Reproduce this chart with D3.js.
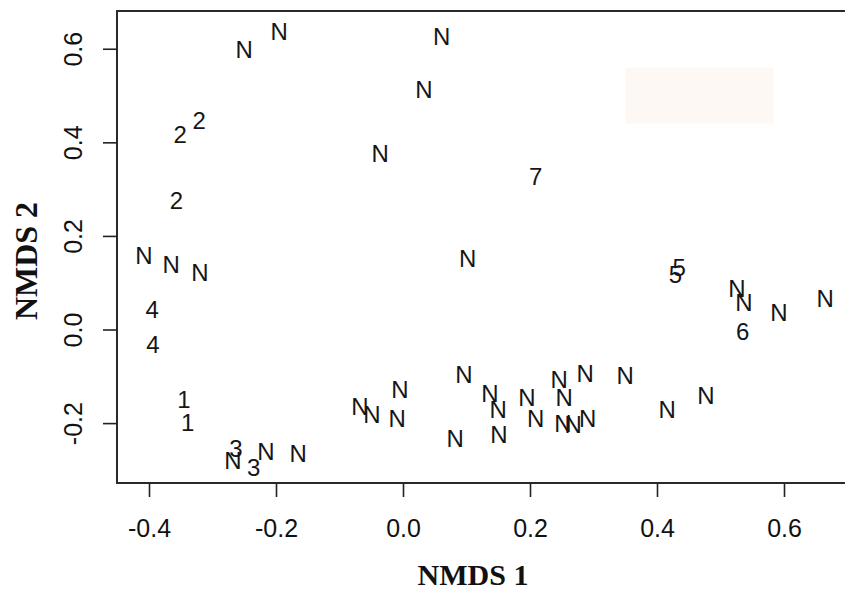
<!DOCTYPE html>
<html>
<head>
<meta charset="utf-8">
<script src="https://cdn.jsdelivr.net/npm/d3@7"></script>
<style>
  html, body { margin: 0; padding: 0; background: #fff; }
  svg { display: block; }
</style>
</head>
<body>
<svg id="chart" width="845" height="591"></svg>
<script>
// NMDS ordination: each site drawn as its group label
const labels = [
  "N", "N", "N", "N", "N", "7",
  "2", "2", "2",
  "N", "N", "N",
  "4", "4", "1", "1",
  "N", "3", "3", "N", "N",
  "N", "5", "5", "N", "N", "6", "N", "N",
  "N", "N", "N", "N",
  "N", "N", "N", "N", "N", "N", "N", "N", "N",
  "N", "N", "N", "N", "N", "N", "N"
];
const nmds1 = [
  -0.250, -0.195, 0.061, 0.033, -0.036, 0.209,
  -0.351, -0.321, -0.357,
  -0.408, -0.365, -0.320,
  -0.395, -0.394, -0.345, -0.339,
  -0.268, -0.263, -0.235, -0.216, -0.165,
  0.102, 0.435, 0.429, 0.526, 0.537, 0.535, 0.592, 0.665,
  -0.005, -0.068, -0.049, -0.009,
  0.096, 0.137, 0.150, 0.082, 0.151, 0.195, 0.209, 0.246, 0.254,
  0.252, 0.268, 0.287, 0.291, 0.350, 0.416, 0.477
];
const nmds2 = [
  0.599, 0.638, 0.627, 0.514, 0.377, 0.328,
  0.418, 0.446, 0.277,
  0.159, 0.140, 0.123,
  0.042, -0.031, -0.149, -0.198,
  -0.279, -0.255, -0.294, -0.260, -0.264,
  0.153, 0.132, 0.117, 0.088, 0.059, -0.004, 0.037, 0.067,
  -0.127, -0.165, -0.182, -0.189,
  -0.095, -0.136, -0.170, -0.232, -0.225, -0.146, -0.189, -0.106, -0.146,
  -0.200, -0.203, -0.093, -0.189, -0.099, -0.170, -0.140
];
const xTicks = [-0.4, -0.2, 0.0, 0.2, 0.4, 0.6];
const yTicks = [-0.2, 0.0, 0.2, 0.4, 0.6];

const svg = d3.select("#chart");
const frameL = 117, frameT = 11, frameR = 850, frameB = 483;

const x = d3.scaleLinear().domain([-0.45, 0.7]).range([117.25, 847.5]);
const y = d3.scaleLinear().domain([-0.328, 0.68]).range([483, 11.3]);
const fmt = d => d3.format(".1f")(d).replace("−", "-");

// faint patch left in the source image
svg.append("rect")
  .attr("x", x(0.350)).attr("y", y(0.56))
  .attr("width", x(0.583) - x(0.350)).attr("height", y(0.44) - y(0.56))
  .attr("fill", "#fef8f4");

// plot frame
svg.append("rect")
  .attr("x", frameL).attr("y", frameT)
  .attr("width", frameR - frameL).attr("height", frameB - frameT)
  .attr("fill", "none").attr("stroke", "#2a2a2a").attr("stroke-width", 2);

// x axis
const xAxis = svg.append("g")
  .attr("transform", `translate(0,${frameB})`)
  .call(d3.axisBottom(x).tickValues(xTicks).tickSize(14).tickPadding(22).tickFormat(fmt));
xAxis.select(".domain").remove();
xAxis.selectAll("line").attr("stroke", "#222").attr("stroke-width", 1.6);
xAxis.selectAll("text")
  .attr("font-family", "'Liberation Sans', Arial, sans-serif")
  .attr("font-size", 25).attr("fill", "#111");

// y axis, labels turned parallel to the axis
const yAxis = svg.append("g")
  .attr("transform", `translate(${frameL},0)`)
  .call(d3.axisLeft(y).tickValues(yTicks).tickSize(14).tickFormat(fmt));
yAxis.select(".domain").remove();
yAxis.selectAll("line").attr("stroke", "#222").attr("stroke-width", 1.6);
yAxis.selectAll("text")
  .attr("x", 0).attr("y", 0).attr("dy", null)
  .attr("text-anchor", "middle")
  .attr("transform", "translate(-35,0) rotate(-90)")
  .attr("font-family", "'Liberation Sans', Arial, sans-serif")
  .attr("font-size", 25).attr("fill", "#111");

// axis titles
svg.append("text")
  .attr("x", 473).attr("y", 585)
  .attr("text-anchor", "middle")
  .attr("font-family", "'Liberation Serif', 'Times New Roman', serif")
  .attr("font-weight", "bold").attr("font-size", 30).attr("fill", "#111")
  .text("NMDS 1");

svg.append("text")
  .attr("transform", "translate(37,261) rotate(-90)")
  .attr("text-anchor", "middle")
  .attr("font-family", "'Liberation Serif', 'Times New Roman', serif")
  .attr("font-weight", "bold").attr("font-size", 32).attr("fill", "#111")
  .text("NMDS 2");

// site labels
const pts = labels.map((lab, i) => ({ lab, x: nmds1[i], y: nmds2[i] }));
svg.append("g")
  .selectAll("text")
  .data(pts)
  .join("text")
  .attr("x", d => x(d.x))
  .attr("y", d => y(d.y))
  .attr("dy", "0.36em")
  .attr("text-anchor", "middle")
  .attr("font-family", "'Liberation Sans', Arial, sans-serif")
  .attr("font-size", 24)
  .attr("fill", "#161616")
  .text(d => d.lab);
</script>
</body>
</html>
